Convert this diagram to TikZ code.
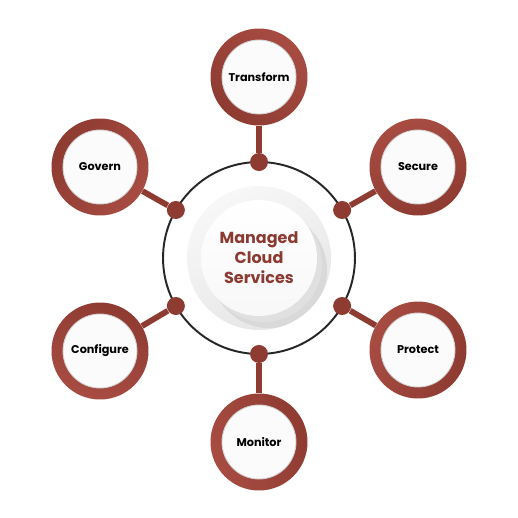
\documentclass[tikz,border=0pt]{standalone}
\usepackage{fontspec}
\setmainfont{Poppins}
\usepackage{tikz}
\usetikzlibrary{positioning, calc, backgrounds}

\definecolor{rustdark}{RGB}{142,59,50}
\definecolor{rustlight}{RGB}{168,76,66}
\definecolor{hubtext}{RGB}{139,58,50}

\begin{document}
\begin{tikzpicture}[
    x=0.02cm, y=-0.02cm,
    hubring/.style={draw=black!85, circle, line width=1.1pt, minimum size=3.84cm, inner sep=0pt, outer sep=0pt},
    hubdisc/.style={circle, minimum size=2.88cm, inner sep=0pt, shading=axis, top color=gray!6, bottom color=gray!20, shading angle=30},
    hubface/.style={circle, minimum size=2.32cm, inner sep=0pt, shading=axis, top color=white, bottom color=gray!6,
        align=center, font=\fontsize{9.1}{11.4}\selectfont\bfseries, text=hubtext},
    dot/.style={circle, fill=rustdark, minimum size=0.36cm, inner sep=0pt},
    stem/.style={draw=rustdark, line width=3.3pt},
    satring/.style={circle, minimum size=1.94cm, inner sep=0pt, shading=axis, top color=rustdark, bottom color=rustlight},
    satface/.style={circle, minimum size=1.48cm, inner sep=0pt, fill=gray!3, draw=gray!35, line width=0.5pt,
        font=\fontsize{6.4}{8}\selectfont\bfseries, text=black},
]
\useasboundingbox[fill=white] (0,0) rectangle (518,518);

% === CENTER: hub ===
\node[hubring] (ring) at (259,258) {};
\node[hubdisc] (hubback) at (ring.center) {};
\begin{scope}
\clip (hubback.center) circle (72);
\fill[gray!30] ($(hubback.center)+(10,12)$) circle (58);
\fill[gray!24] ($(hubback.center)+(5,6)$) circle (58);
\end{scope}
\node[hubface] (hub) at (ring.center) {Managed\\Cloud\\Services};

% --- Dots on the ring ---
\node[dot] (d-transform) at (ring.90) {};
\node[dot] (d-secure) at (ring.30) {};
\node[dot] (d-protect) at (ring.-30) {};
\node[dot] (d-monitor) at (ring.-90) {};
\node[dot] (d-configure) at (ring.210) {};
\node[dot] (d-govern) at (ring.150) {};

% === OUTER: services ===
\node[satring, shading angle=135] (transform) at (259,77) {};
\node[satring, shading angle=200] (secure) at (418,167) {};
\node[satring, shading angle=250] (protect) at (418,350) {};
\node[satring, shading angle=290] (monitor) at (259,442) {};
\node[satring, shading angle=-20] (configure) at (100,351) {};
\node[satring, shading angle=60] (govern) at (100,167) {};

% --- Stems ---
\draw[stem] (d-transform) -- (transform);
\draw[stem] (d-secure) -- (secure);
\draw[stem] (d-protect) -- (protect);
\draw[stem] (d-monitor) -- (monitor);
\draw[stem] (d-configure) -- (configure);
\draw[stem] (d-govern) -- (govern);

% --- Labels ---
\node[satface] (transform-face) at (transform) {Transform};
\node[satface] (secure-face) at (secure) {Secure};
\node[satface] (protect-face) at (protect) {Protect};
\node[satface] (monitor-face) at (monitor) {Monitor};
\node[satface] (configure-face) at (configure) {Configure};
\node[satface] (govern-face) at (govern) {Govern};

\end{tikzpicture}
\end{document}
